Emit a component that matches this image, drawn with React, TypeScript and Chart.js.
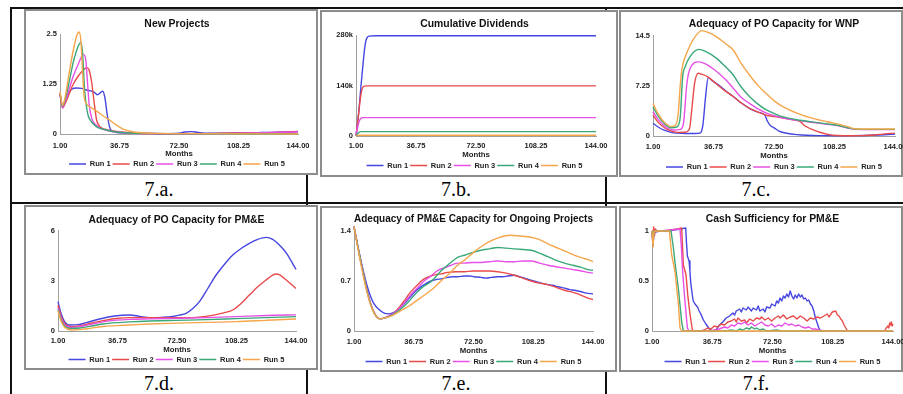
import React, { useEffect, useRef } from 'react';
import { Chart, registerables } from 'chart.js';

Chart.register(...registerables);

type P = [number, number];

// ---------- shared labels ----------
const RUN_LABELS = ['Run 1', 'Run 2', 'Run 3', 'Run 4', 'Run 5'];
const X_TICKS = [1, 36.75, 72.5, 108.25, 144];
const X_TICK_LABELS = ['1.00', '36.75', '72.50', '108.25', '144.00'];
const X_TITLE = 'Months';
const CAPTIONS = ['7.a.', '7.b.', '7.c.', '7.d.', '7.e.', '7.f.'];

// ---------- 7.a New Projects ----------
const A_TITLE = 'New Projects';
const A_Y_TICKS = [0, 1.25, 2.5];
const A_Y_LABELS = ['0', '1.25', '2.5'];
const A_RUN1: P[] = [[1, 1.0], [2.5, 0.68], [4, 0.8], [6, 1.0], [8, 1.12], [11, 1.15], [14, 1.14], [17, 1.1], [20, 1.07], [22, 1.03], [23.5, 0.98], [25, 1.02], [26.7, 1.07], [28, 0.9], [29.5, 0.45], [31, 0.15], [33, 0.06], [37, 0.03], [45, 0.02], [55, 0.015], [65, 0.01], [72, 0.02], [76, 0.05], [80, 0.06], [84, 0.04], [90, 0.02], [100, 0.02], [110, 0.03], [120, 0.035], [128, 0.04], [136, 0.05], [144, 0.065]];
const A_RUN2: P[] = [[1, 1.0], [2.5, 0.65], [4, 0.75], [6, 0.95], [9, 1.25], [12, 1.45], [15, 1.6], [17, 1.66], [18.5, 1.6], [20, 1.3], [21.5, 0.8], [23, 0.35], [25, 0.18], [28, 0.12], [32, 0.08], [38, 0.05], [48, 0.02], [60, 0.01], [80, 0.01], [100, 0.02], [115, 0.03], [125, 0.035], [135, 0.045], [144, 0.06]];
const A_RUN3: P[] = [[1, 1.02], [2.5, 0.66], [4, 0.8], [6, 1.05], [9, 1.45], [12, 1.75], [15, 1.99], [16.5, 1.85], [17.5, 1.3], [18.5, 0.75], [20, 0.4], [22, 0.25], [25, 0.15], [29, 0.09], [34, 0.05], [45, 0.02], [60, 0.01], [90, 0.01], [110, 0.02], [125, 0.03], [144, 0.05]];
const A_RUN4: P[] = [[1, 1.02], [2.5, 0.7], [4, 0.85], [6, 1.2], [9, 1.8], [12, 2.2], [13.6, 2.29], [14.6, 2.0], [15.5, 1.3], [16.5, 0.8], [18, 0.45], [20, 0.3], [23, 0.18], [27, 0.12], [32, 0.07], [40, 0.03], [50, 0.015], [70, 0.01], [144, 0.005]];
const A_RUN5: P[] = [[1, 1.05], [2.5, 0.72], [4, 0.9], [6, 1.4], [9, 2.1], [11, 2.45], [12.4, 2.55], [13.5, 2.35], [14.5, 1.6], [15.5, 0.95], [17, 0.75], [20, 0.65], [23, 0.57], [27, 0.45], [31, 0.34], [35, 0.22], [39, 0.12], [43, 0.07], [50, 0.03], [60, 0.015], [80, 0.01], [144, 0.0]];

// ---------- 7.b Cumulative Dividends ----------
const B_TITLE = 'Cumulative Dividends';
const B_Y_TICKS = [0, 140000, 280000];
const B_Y_LABELS = ['0', '140k', '280k'];
const B_RUN1: P[] = [[1, 0], [2.5, 60000], [4, 140000], [5.5, 215000], [6.5, 255000], [7.5, 272000], [9, 277000], [12, 278000], [144, 278000]];
const B_RUN2: P[] = [[1, 0], [2.5, 60000], [3.5, 100000], [4.5, 128000], [5.5, 137000], [7, 139000], [144, 139000]];
const B_RUN3: P[] = [[1, 0], [2, 25000], [3, 42000], [4, 49000], [5, 51000], [144, 51000]];
const B_RUN4: P[] = [[1, 0], [2, 7000], [3, 11000], [4, 12000], [144, 12000]];
const B_RUN5: P[] = [[1, 0], [2, 1500], [3, 2000], [144, 2000]];

// ---------- 7.c Adequacy of PO Capacity for WNP ----------
const C_TITLE = 'Adequacy of PO Capacity for WNP';
const C_Y_TICKS = [0, 7.25, 14.5];
const C_Y_LABELS = ['0', '7.25', '14.5'];
const C_RUN1: P[] = [[1, 1.84], [4, 1.3], [8, 0.8], [13, 0.45], [20, 0.37], [26, 0.35], [29, 0.45], [30.5, 1.6], [32, 5.5], [33.6, 8.4], [36, 8.0], [40, 7.3], [44, 6.5], [48.4, 5.7], [53, 4.8], [58, 4.0], [63, 3.45], [67, 3.05], [68.5, 2.2], [70, 1.6], [73, 1.1], [76, 0.65], [80, 0.4], [86, 0.2], [92, 0.1], [100, 0.05], [110, 0.03], [120, 0.05], [130, 0.1], [138, 0.18], [144, 0.28]];
const C_RUN2: P[] = [[1, 3.0], [4, 2.0], [8, 1.15], [12, 0.7], [15, 0.53], [20, 0.55], [22.5, 1.0], [24, 4.0], [25.5, 7.5], [27.7, 9.06], [30, 8.9], [33.6, 8.5], [38, 7.6], [43, 6.6], [48.4, 5.7], [53, 4.8], [58, 4.0], [63, 3.45], [68, 3.0], [73, 2.8], [78, 2.6], [84, 2.35], [88.5, 2.0], [90, 1.6], [92, 1.3], [95, 0.95], [100, 0.5], [105, 0.2], [110, 0.08], [118, 0.04], [125, 0.06], [132, 0.15], [138, 0.3], [144, 0.42]];
const C_RUN3: P[] = [[1, 3.5], [4, 2.4], [8, 1.4], [13, 0.87], [17, 0.95], [19, 1.8], [21, 7.5], [23, 9.8], [28, 10.7], [32, 10.4], [38.6, 9.3], [44, 8.1], [48.4, 6.9], [53, 5.6], [58, 4.7], [63, 3.9], [68, 3.3], [73, 2.9], [78, 2.6], [86, 2.25], [96, 1.95], [104, 1.7], [110, 1.5], [116, 1.15], [121, 0.95], [130, 0.92], [144, 0.92]];
const C_RUN4: P[] = [[1, 4.2], [4, 2.9], [8, 1.7], [12, 1.2], [15, 1.3], [17, 2.5], [18.5, 8.5], [20, 10.0], [23, 11.5], [28, 12.5], [32, 12.2], [38.6, 11.2], [43, 10.2], [48.4, 8.8], [53, 7.1], [58, 5.7], [63, 4.6], [68, 3.76], [73, 3.2], [78, 2.75], [86, 2.35], [96, 2.0], [104, 1.75], [110, 1.55], [116, 1.2], [121, 0.98], [130, 0.95], [144, 0.95]];
const C_RUN5: P[] = [[1, 4.7], [4, 3.2], [8, 1.9], [12, 1.35], [14.5, 1.6], [16, 3.5], [17, 7.0], [18, 9.5], [21, 12.0], [25, 14.0], [29.8, 15.2], [34, 14.9], [38.6, 14.3], [44, 13.3], [48.4, 12.4], [53, 10.5], [58, 8.8], [63, 7.3], [68, 6.1], [73, 5.0], [78, 4.2], [86, 3.3], [96, 2.5], [104, 2.05], [110, 1.75], [116, 1.35], [121, 1.02], [130, 1.0], [144, 1.0]];

// ---------- 7.d Adequacy of PO Capacity for PM&E ----------
const D_TITLE = 'Adequacy of PO Capacity for PM&E';
const D_Y_TICKS = [0, 3, 6];
const D_Y_LABELS = ['0', '3', '6'];
const D_RUN1: P[] = [[1, 1.76], [3, 1.0], [5, 0.55], [8.2, 0.36], [13, 0.38], [18, 0.5], [26, 0.72], [35, 0.9], [44, 0.96], [50, 0.88], [56, 0.8], [63, 0.82], [70, 0.87], [74, 0.95], [78, 1.06], [82, 1.35], [86, 1.76], [91, 2.55], [96, 3.36], [101, 4.0], [106, 4.56], [111, 4.95], [116, 5.26], [121, 5.5], [126, 5.62], [130, 5.5], [134, 5.16], [138, 4.7], [144, 3.7]];
const D_RUN2: P[] = [[1, 1.56], [3, 0.85], [5, 0.45], [9.2, 0.26], [14, 0.3], [20, 0.45], [28, 0.62], [36, 0.75], [44, 0.8], [52, 0.8], [60, 0.8], [70, 0.8], [80, 0.8], [90, 0.88], [96, 0.98], [101, 1.1], [106, 1.26], [111, 1.65], [116, 2.16], [121, 2.65], [126, 3.06], [130, 3.35], [132, 3.42], [134, 3.38], [137, 3.15], [140, 2.9], [144, 2.55]];
const D_RUN3: P[] = [[1, 1.4], [3, 0.75], [5, 0.38], [9, 0.22], [14, 0.26], [20, 0.38], [28, 0.55], [36, 0.65], [44, 0.7], [56, 0.73], [72, 0.76], [90, 0.8], [108, 0.86], [126, 0.93], [144, 0.97]];
const D_RUN4: P[] = [[1, 1.3], [3, 0.65], [5, 0.3], [9, 0.15], [14, 0.18], [20, 0.28], [28, 0.42], [36, 0.5], [44, 0.55], [56, 0.6], [72, 0.64], [90, 0.68], [108, 0.74], [126, 0.8], [144, 0.86]];
const D_RUN5: P[] = [[1, 1.2], [3, 0.55], [5, 0.22], [9, 0.06], [14, 0.08], [20, 0.16], [28, 0.27], [36, 0.32], [44, 0.36], [56, 0.42], [72, 0.47], [90, 0.52], [108, 0.56], [126, 0.64], [144, 0.72]];

// ---------- 7.e Adequacy of PM&E Capacity for Ongoing Projects ----------
const E_TITLE = 'Adequacy of PM&E Capacity for Ongoing Projects';
const E_Y_TICKS = [0, 0.7, 1.4];
const E_Y_LABELS = ['0', '0.7', '1.4'];
const E_RUN1: P[] = [[1, 1.46], [3, 1.22], [5, 1.0], [7, 0.8], [9, 0.62], [11, 0.48], [13, 0.38], [16, 0.3], [19, 0.25], [22, 0.24], [25, 0.26], [28, 0.31], [31, 0.38], [34, 0.46], [37, 0.54], [40, 0.6], [43, 0.65], [47, 0.7], [50, 0.72], [53, 0.73], [57, 0.75], [60, 0.76], [63, 0.76], [67, 0.77], [70, 0.77], [73, 0.76], [77, 0.75], [80, 0.74], [83, 0.75], [87, 0.76], [90, 0.76], [93, 0.77], [97, 0.78], [100, 0.76], [103, 0.74], [107, 0.71], [110, 0.69], [113, 0.67], [117, 0.65], [120, 0.64], [123, 0.62], [127, 0.6], [130, 0.58], [133, 0.57], [137, 0.55], [140, 0.53], [144, 0.52]];
const E_RUN2: P[] = [[1, 1.46], [3, 1.22], [5, 0.98], [7, 0.76], [9, 0.55], [11, 0.38], [13, 0.26], [15, 0.19], [17, 0.17], [19, 0.18], [22, 0.21], [25, 0.25], [28, 0.33], [31, 0.42], [34, 0.52], [37, 0.6], [40, 0.67], [43, 0.73], [47, 0.77], [50, 0.79], [53, 0.8], [57, 0.82], [62, 0.83], [67, 0.83], [72, 0.84], [77, 0.84], [82, 0.84], [87, 0.83], [92, 0.81], [97, 0.78], [102, 0.74], [107, 0.7], [112, 0.67], [117, 0.65], [122, 0.61], [127, 0.57], [132, 0.54], [137, 0.5], [141, 0.46], [144, 0.44]];
const E_RUN3: P[] = [[1, 1.46], [3, 1.22], [5, 0.98], [7, 0.76], [9, 0.55], [11, 0.38], [13, 0.26], [15, 0.19], [17, 0.17], [19, 0.18], [22, 0.21], [25, 0.25], [28, 0.31], [31, 0.39], [34, 0.48], [37, 0.56], [40, 0.63], [43, 0.7], [47, 0.77], [50, 0.83], [53, 0.87], [57, 0.9], [60, 0.93], [63, 0.95], [67, 0.95], [72, 0.96], [77, 0.96], [82, 0.97], [87, 0.98], [92, 0.97], [97, 0.97], [102, 0.98], [107, 0.98], [112, 0.95], [117, 0.92], [122, 0.9], [127, 0.88], [132, 0.86], [137, 0.84], [141, 0.82], [144, 0.81]];
const E_RUN4: P[] = [[1, 1.46], [3, 1.22], [5, 0.98], [7, 0.75], [9, 0.54], [11, 0.37], [13, 0.25], [15, 0.19], [17, 0.17], [19, 0.18], [22, 0.2], [25, 0.24], [28, 0.29], [31, 0.35], [34, 0.42], [37, 0.5], [40, 0.57], [43, 0.63], [47, 0.69], [50, 0.76], [53, 0.84], [57, 0.92], [60, 0.98], [63, 1.03], [67, 1.06], [72, 1.1], [77, 1.13], [82, 1.15], [87, 1.17], [92, 1.16], [97, 1.15], [102, 1.14], [107, 1.13], [112, 1.09], [117, 1.04], [122, 0.99], [127, 0.95], [132, 0.92], [137, 0.89], [141, 0.86], [144, 0.85]];
const E_RUN5: P[] = [[1, 1.46], [3, 1.2], [5, 0.95], [7, 0.72], [9, 0.52], [11, 0.36], [13, 0.25], [15, 0.19], [17, 0.17], [19, 0.18], [22, 0.2], [25, 0.23], [28, 0.27], [31, 0.31], [34, 0.35], [37, 0.4], [40, 0.45], [43, 0.5], [47, 0.57], [50, 0.63], [53, 0.7], [57, 0.78], [60, 0.85], [63, 0.92], [67, 0.99], [72, 1.09], [77, 1.18], [82, 1.25], [87, 1.3], [91, 1.33], [95, 1.34], [100, 1.33], [105, 1.32], [109, 1.3], [113, 1.27], [118, 1.21], [123, 1.16], [128, 1.11], [133, 1.06], [138, 1.02], [141, 1.0], [144, 0.97]];

// ---------- 7.f Cash Sufficiency for PM&E ----------
const F_TITLE = 'Cash Sufficiency for PM&E';
const F_Y_TICKS = [0, 0.5, 1];
const F_Y_LABELS = ['0', '0.5', '1'];
const F_RUN1: P[] = [[1, 1.0], [1.6, 0.85], [2.2, 1.0], [3, 0.99], [6, 1.0], [10, 1.0], [14, 1.01], [18, 1.02], [21, 1.03], [21.4, 0.9], [22, 0.75], [23, 0.7], [23.5, 0.6], [24, 0.48], [25, 0.35], [25.5, 0.3], [26.5, 0.27], [28, 0.24], [29, 0.2], [30, 0.17], [31.5, 0.11], [33, 0.07], [35, 0.02], [37, 0.0], [39, 0.01], [41, 0.06], [43, 0.09], [45, 0.13], [47, 0.15], [49, 0.18], [50, 0.16], [51, 0.2], [53, 0.22], [54, 0.19], [55, 0.23], [57, 0.21], [58, 0.24], [60, 0.2], [61, 0.23], [63, 0.21], [64, 0.25], [65, 0.2], [67, 0.22], [68, 0.19], [69, 0.24], [71, 0.23], [72, 0.27], [74, 0.25], [75, 0.3], [76, 0.28], [77, 0.33], [78, 0.3], [79, 0.35], [80, 0.33], [81, 0.37], [82, 0.34], [83, 0.4], [84, 0.35], [85, 0.32], [86, 0.36], [87, 0.33], [88, 0.37], [89, 0.34], [90, 0.36], [91, 0.32], [92, 0.33], [93, 0.3], [94, 0.31], [95, 0.27], [96, 0.25], [97, 0.2], [98, 0.13], [99, 0.08], [100, 0.03], [101, 0.0], [144, 0.0]];
const F_RUN2: P[] = [[1, 1.0], [1.5, 0.9], [2, 1.04], [2.5, 0.95], [3, 1.02], [4, 1.0], [8, 1.0], [12, 1.01], [16, 1.02], [18.6, 1.03], [19.6, 0.66], [21.2, 0.56], [22.2, 0.36], [23.6, 0.16], [25, 0.01], [26, 0], [30, 0], [32, 0.01], [34, 0.03], [36, 0.02], [38, 0.05], [40, 0.04], [42, 0.07], [44, 0.06], [46, 0.09], [48, 0.1], [50, 0.12], [51, 0.09], [52, 0.13], [54, 0.1], [56, 0.11], [57, 0.08], [59, 0.12], [61, 0.1], [63, 0.13], [65, 0.12], [66, 0.14], [68, 0.11], [70, 0.13], [72, 0.1], [74, 0.13], [76, 0.15], [77, 0.13], [79, 0.16], [81, 0.12], [83, 0.14], [85, 0.15], [87, 0.12], [89, 0.15], [91, 0.13], [93, 0.1], [95, 0.13], [97, 0.12], [99, 0.14], [101, 0.13], [103, 0.15], [105, 0.17], [106, 0.14], [108, 0.19], [110, 0.2], [111, 0.16], [112, 0.15], [113, 0.12], [114, 0.1], [115, 0.06], [116, 0.03], [117, 0.0], [139, 0.0], [140, 0.03], [141, 0.05], [141.5, 0.03], [142, 0.08], [142.5, 0.06], [143, 0.09], [143.5, 0.05], [144, 0.07]];
const F_RUN3: P[] = [[1, 1.0], [1.6, 0.88], [2.2, 1.0], [6, 1.0], [12, 1.01], [17.6, 1.02], [18.4, 0.85], [19.2, 0.59], [20.6, 0.29], [22, 0.03], [23, 0.0], [36, 0.0], [38, 0.01], [41, 0.02], [44, 0.04], [46, 0.03], [48, 0.06], [50, 0.05], [52, 0.08], [54, 0.07], [56, 0.09], [58, 0.06], [60, 0.08], [62, 0.05], [64, 0.07], [66, 0.09], [68, 0.06], [70, 0.05], [72, 0.07], [74, 0.04], [76, 0.06], [78, 0.05], [80, 0.08], [82, 0.06], [84, 0.07], [86, 0.05], [88, 0.06], [90, 0.04], [92, 0.03], [94, 0.04], [96, 0.02], [98, 0.02], [100, 0.01], [103, 0.0], [144, 0.0]];
const F_RUN4: P[] = [[1, 1.0], [1.6, 0.86], [2.2, 1.0], [6, 1.0], [10, 1.0], [12.3, 1.0], [13.7, 0.83], [14.6, 0.69], [16.6, 0.43], [18.6, 0.09], [19.6, 0.0], [45, 0.0], [48, 0.01], [51, 0.0], [53, 0.02], [55, 0.01], [57, 0.03], [59, 0.02], [60, 0.04], [62, 0.02], [63, 0.03], [65, 0.01], [67, 0.02], [69, 0.0], [75, 0.01], [78, 0.0], [144, 0.0]];
const F_RUN5: P[] = [[1, 1.0], [1.6, 0.84], [2.2, 1.0], [6, 1.0], [10, 1.0], [11.3, 1.0], [12.7, 0.76], [14.7, 0.59], [16.7, 0.26], [17.6, 0.03], [18.6, 0.0], [144, 0.0]];

// ---------- styles ----------
const COLORS = ['#4646e0', '#e84a4a', '#e650e6', '#3aa878', '#f5a54a'];
const FONT = "'Liberation Sans', Arial, Helvetica, sans-serif";
const TITLE_FS = 10.4;
const TICK_FS = 7.5;
const AXT_FS = 7.8;
const LEG_FS = 7.5;
const LEG_PAD = 2;

interface Box { x: number; y: number; w: number; h: number }
interface Geo { plotLeft: number; plotRight: number; plotTop: number; plotBottom: number; titleY: number; tickY: number; axisTitleY: number; legendY: number; cx: number }
interface Spec { title: string; yTicks: number[]; yLabels: string[]; runs: P[][]; smooth: boolean; frame: Box; geo: Geo; caption: string; capX: number; capBase: number }

const SPECS: Spec[] = [
  { title: A_TITLE, yTicks: A_Y_TICKS, yLabels: A_Y_LABELS, runs: [A_RUN1, A_RUN2, A_RUN3, A_RUN4, A_RUN5], smooth: true,
    frame: { x: 24, y: 9, w: 294, h: 166 },
    geo: { plotLeft: 60, plotRight: 298, plotTop: 34, plotBottom: 134, titleY: 24, tickY: 146, axisTitleY: 154, legendY: 164, cx: 177 },
    caption: CAPTIONS[0], capX: 159, capBase: 196 },
  { title: B_TITLE, yTicks: B_Y_TICKS, yLabels: B_Y_LABELS, runs: [B_RUN1, B_RUN2, B_RUN3, B_RUN4, B_RUN5], smooth: true,
    frame: { x: 320, y: 10, w: 298, h: 167 },
    geo: { plotLeft: 356, plotRight: 596, plotTop: 35, plotBottom: 136, titleY: 24, tickY: 146, axisTitleY: 155, legendY: 165.5, cx: 474.5 },
    caption: CAPTIONS[1], capX: 456, capBase: 196 },
  { title: C_TITLE, yTicks: C_Y_TICKS, yLabels: C_Y_LABELS, runs: [C_RUN1, C_RUN2, C_RUN3, C_RUN4, C_RUN5], smooth: true,
    frame: { x: 619, y: 10, w: 284, h: 167 },
    geo: { plotLeft: 653, plotRight: 895, plotTop: 35.5, plotBottom: 136, titleY: 24.3, tickY: 146.5, axisTitleY: 156, legendY: 167, cx: 775 },
    caption: CAPTIONS[2], capX: 756, capBase: 196 },
  { title: D_TITLE, yTicks: D_Y_TICKS, yLabels: D_Y_LABELS, runs: [D_RUN1, D_RUN2, D_RUN3, D_RUN4, D_RUN5], smooth: true,
    frame: { x: 24, y: 205, w: 294, h: 165 },
    geo: { plotLeft: 58, plotRight: 296, plotTop: 231, plotBottom: 331, titleY: 220.5, tickY: 341, axisTitleY: 349.5, legendY: 359.5, cx: 176.5 },
    caption: CAPTIONS[3], capX: 159, capBase: 390 },
  { title: E_TITLE, yTicks: E_Y_TICKS, yLabels: E_Y_LABELS, runs: [E_RUN1, E_RUN2, E_RUN3, E_RUN4, E_RUN5], smooth: true,
    frame: { x: 320, y: 206, w: 297, h: 166 },
    geo: { plotLeft: 354, plotRight: 593, plotTop: 231, plotBottom: 331, titleY: 219, tickY: 341.5, axisTitleY: 350.5, legendY: 361.5, cx: 473.5 },
    caption: CAPTIONS[4], capX: 456, capBase: 390 },
  { title: F_TITLE, yTicks: F_Y_TICKS, yLabels: F_Y_LABELS, runs: [F_RUN1, F_RUN2, F_RUN3, F_RUN4, F_RUN5], smooth: false,
    frame: { x: 619, y: 206, w: 284, h: 166 },
    geo: { plotLeft: 652, plotRight: 893, plotTop: 231, plotBottom: 331, titleY: 219.5, tickY: 341.5, axisTitleY: 351, legendY: 361.5, cx: 774 },
    caption: CAPTIONS[5], capX: 756, capBase: 390 },
];

const TABLE_LINES: Box[] = [
  { x: 10, y: 7, w: 893, h: 2 },
  { x: 10, y: 202, w: 893, h: 2 },
  { x: 10, y: 7, w: 2, h: 387 },
  { x: 306, y: 7, w: 2, h: 387 },
  { x: 605, y: 7, w: 2, h: 387 },
];

function measureWidest(labels: string[]): number {
  const c = document.createElement('canvas').getContext('2d');
  if (!c) return 12;
  c.font = `bold ${TICK_FS}px ${FONT}`;
  return Math.max(...labels.map((l) => c.measureText(l).width));
}

function RunChart({ spec }: { spec: Spec }) {
  const ref = useRef<HTMLCanvasElement>(null);
  const g = spec.geo;
  const L = spec.frame.x + 2;
  const T = spec.frame.y + 2;
  const W = Math.round(g.plotRight + 20 - L);
  const H = Math.ceil(g.legendY + 15 - T);

  useEffect(() => {
    if (!ref.current) return;
    const leftEdge = Math.min(g.plotLeft, 2 * g.cx - g.plotRight);
    const padL = leftEdge - L;
    const yW = g.plotLeft - leftEdge;
    const padR = L + W - g.plotRight;
    const padB = T + H - g.legendY - 10 - LEG_FS / 2;
    const legendTop = g.legendY - LEG_PAD - LEG_FS / 2;
    const titleLH = TITLE_FS * 1.2;
    const titlePadTop = g.titleY - T - titleLH / 2;
    const titlePadBottom = g.plotTop - (g.titleY + titleLH / 2);
    const xH = legendTop - g.plotBottom;
    const xTickPad = g.tickY - g.plotBottom - (TICK_FS * 1.2) / 2;
    const xTitlePadBottom = legendTop - g.axisTitleY - (AXT_FS * 1.2) / 2;
    const tickFont = { family: FONT, size: TICK_FS, weight: 'bold' as const };
    const yMax = spec.yTicks[spec.yTicks.length - 1];
    const widest = measureWidest(spec.yLabels);

    const chart = new Chart(ref.current, {
      type: 'line',
      data: {
        datasets: spec.runs.map((pts, i) => ({
          label: RUN_LABELS[i],
          data: pts.map(([x, y]) => ({ x, y })),
          borderColor: COLORS[i],
          backgroundColor: COLORS[i],
          borderWidth: 1.4,
          pointRadius: 0,
          pointHoverRadius: 0,
          pointStyle: 'line',
          tension: 0,
          cubicInterpolationMode: spec.smooth ? 'monotone' : 'default',
          borderJoinStyle: 'round',
          clip: false,
          order: 5 - i,
          fill: false,
        })),
      },
      options: {
        responsive: false,
        animation: false,
        events: [],
        layout: { padding: { left: padL, right: padR, top: 0, bottom: padB } },
        plugins: {
          title: {
            display: true,
            text: spec.title,
            color: '#111',
            font: { family: FONT, size: TITLE_FS, weight: 'bold', lineHeight: 1.2 },
            padding: { top: titlePadTop, bottom: titlePadBottom },
          },
          legend: {
            position: 'bottom',
            labels: {
              usePointStyle: true,
              pointStyle: 'line',
              pointStyleWidth: 17,
              padding: LEG_PAD,
              color: '#222',
              font: { family: FONT, size: LEG_FS, weight: 'bold' },
              sort: (a: any, b: any) => a.datasetIndex - b.datasetIndex,
            },
          },
          tooltip: { enabled: false },
        },
        scales: {
          x: {
            type: 'linear',
            min: 1,
            max: 144,
            grid: { display: false, drawTicks: false },
            border: { display: true, color: '#a0a0a0', width: 1 },
            ticks: {
              padding: xTickPad,
              autoSkip: false,
              maxRotation: 0,
              minRotation: 0,
              color: '#222',
              font: tickFont,
              callback: (_v: any, i: number) => X_TICK_LABELS[i],
            },
            afterBuildTicks: (s: any) => { s.ticks = X_TICKS.map((v) => ({ value: v })); },
            afterFit: (s: any) => { s.height = xH; },
            title: {
              display: true,
              text: X_TITLE,
              color: '#222',
              font: { family: FONT, size: AXT_FS, weight: 'bold', lineHeight: 1.2 },
              padding: { top: 0, bottom: xTitlePadBottom },
            },
          },
          y: {
            type: 'linear',
            min: 0,
            max: yMax,
            grid: { display: false, drawTicks: false },
            border: { display: true, color: '#a0a0a0', width: 1 },
            ticks: {
              mirror: true,
              crossAlign: 'far',
              padding: -(widest + 3),
              autoSkip: false,
              color: '#222',
              font: tickFont,
              callback: (_v: any, i: number) => spec.yLabels[i],
            },
            afterBuildTicks: (s: any) => { s.ticks = spec.yTicks.map((v) => ({ value: v })); },
            afterFit: (s: any) => { s.width = yW; },
          },
        },
      } as any,
    });
    return () => chart.destroy();
  }, []);

  return (
    <canvas
      ref={ref}
      width={W}
      height={H}
      style={{ position: 'absolute', left: L, top: T, width: W, height: H }}
    />
  );
}

export default function App() {
  return (
    <div style={{ position: 'absolute', left: 0, top: 0, width: 903, height: 394, overflow: 'hidden', background: '#fff' }}>
      {TABLE_LINES.map((b, i) => (
        <div key={'l' + i} style={{ position: 'absolute', left: b.x, top: b.y, width: b.w, height: b.h, background: '#111' }} />
      ))}
      {SPECS.map((s, i) => (
        <div key={'f' + i} style={{ position: 'absolute', left: s.frame.x, top: s.frame.y, width: s.frame.w, height: s.frame.h, boxSizing: 'border-box', border: '2px solid #8c8c8c', background: '#fff' }} />
      ))}
      {SPECS.map((s, i) => (
        <div key={'c' + i} style={{ position: 'absolute', left: s.capX - 40, top: s.capBase - 16.75, width: 80, textAlign: 'center', fontFamily: "'Liberation Serif', 'Times New Roman', serif", fontSize: 20, lineHeight: '20px', color: '#000' }}>
          {s.caption}
        </div>
      ))}
      {SPECS.map((s, i) => (
        <RunChart key={'ch' + i} spec={s} />
      ))}
    </div>
  );
}
